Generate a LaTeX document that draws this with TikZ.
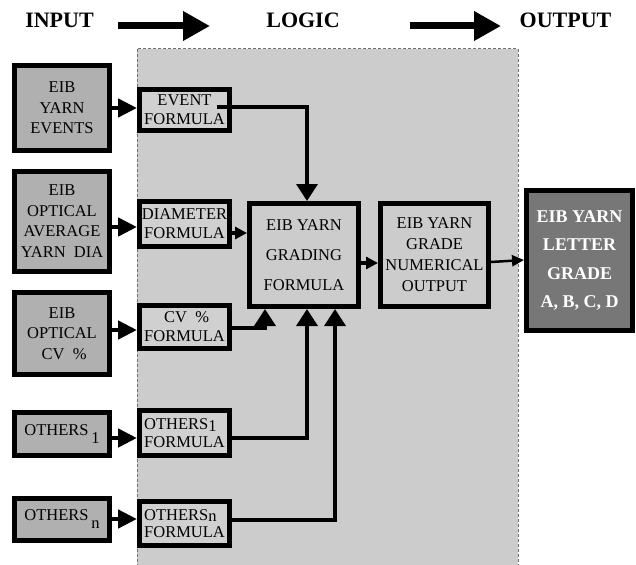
\documentclass[tikz,border=0pt]{standalone}
\usepackage{fontspec}
\setmainfont{Liberation Serif}
\usetikzlibrary{arrows.meta}
\definecolor{bgGray}{HTML}{CCCCCC}
\definecolor{inGray}{HTML}{B0B0B0}
\definecolor{fmGray}{HTML}{D0D0D0}
\definecolor{outGray}{HTML}{777777}
\definecolor{dashGray}{HTML}{707070}
\begin{document}
\begin{tikzpicture}[x=1pt,y=-1pt,
  boxbase/.style={draw=black, line width=5pt, inner sep=0pt, outer sep=2.5pt, align=center},
  inbox/.style={boxbase, fill=inGray, font=\fontsize{16.5}{20.5}\selectfont},
  fmbox/.style={boxbase, fill=fmGray, font=\fontsize{16.5}{19}\selectfont},
  lgbox/.style={boxbase, fill=bgGray},
  outbox/.style={boxbase, fill=outGray, text=white, font=\bfseries\fontsize{18}{28.5}\selectfont},
  titletext/.style={font=\bfseries\fontsize{22}{24}\selectfont, inner sep=0pt},
  conn/.style={line width=3.5pt},
  inarrow/.style={line width=4.5pt, -{Triangle[length=19pt,width=18pt]}},
  uptip/.style={conn, -{Triangle[length=17pt,width=21pt]}},
  smalltip/.style={conn, -{Triangle[length=12pt,width=12pt]}},
  titlearrow/.style={line width=7pt, -{Triangle[length=27pt,width=28pt]}}
]
\useasboundingbox (0,0) rectangle (636,564);
% logic region
\draw[fill=bgGray, draw=dashGray, line width=1pt, dash pattern=on 3pt off 2pt] (137,49) rectangle (518,570);

% titles
\node[titletext] (tin) at (59.5,20) {INPUT};
\node[titletext] (tlog) at (303,20) {LOGIC};
\node[titletext] (tout) at (565.5,20) {OUTPUT};
\coordinate (a1s) at (118,26);
\coordinate (a1e) at (210,26);
\coordinate (a2s) at (410,26);
\coordinate (a2e) at (501,26);
\draw[titlearrow] (a1s) -- (a1e);
\draw[titlearrow] (a2s) -- (a2e);

% input boxes
\node[inbox, minimum width=95pt, minimum height=85pt] (ev) at (62,108) {EIB\\YARN\\EVENTS};
\node[inbox, minimum width=95pt, minimum height=100pt] (dia) at (62,221) {EIB\\OPTICAL\\AVERAGE\\YARN\ \ DIA};
\node[inbox, minimum width=95pt, minimum height=82pt] (cv) at (62,333.5) {EIB\\OPTICAL\\\ CV\ \ \%};
\node[inbox, minimum width=95pt, minimum height=43pt] (oa) at (62,434) {OTHERS\,\raisebox{-8pt}{1}};
\node[inbox, minimum width=95pt, minimum height=42pt] (ob) at (62,519.5) {OTHERS\,\raisebox{-8pt}{n}};

% formula boxes
\node[fmbox, minimum width=90pt, minimum height=41pt] (evf) at (184.5,110) {EVENT\\FORMULA};
\node[fmbox, minimum width=90pt, minimum height=45pt] (diaf) at (184.5,224) {DIAMETER\\FORMULA};
\node[fmbox, minimum width=90pt, minimum height=43pt] (cvf) at (184.5,327) {\ CV\ \ \%\\FORMULA};
\node[fmbox, minimum width=90pt, minimum height=45pt, align=left, font=\fontsize{16.5}{17.5}\selectfont] (oaf) at (184.5,433) {OTHERS\raisebox{-1.5pt}{1}\\FORMULA};
\node[fmbox, minimum width=90pt, minimum height=44pt, align=left, font=\fontsize{16.5}{17.5}\selectfont] (obf) at (184.5,523.5) {OTHERS\raisebox{-1.5pt}{n}\\FORMULA};

% logic boxes
\node[lgbox, minimum width=109pt, minimum height=103pt, font=\fontsize{16.5}{30}\selectfont] (grd) at (304,255) {EIB YARN\\GRADING\\FORMULA};
\node[lgbox, minimum width=108pt, minimum height=103pt, font=\fontsize{16.5}{21}\selectfont] (num) at (434.5,255) {EIB YARN\\GRADE\\NUMERICAL\\OUTPUT};
\node[outbox, minimum width=106pt, minimum height=140pt] (let) at (579.5,260.5) {EIB YARN\\LETTER\\GRADE\\A, B, C, D};

% input arrows
\draw[inarrow] (ev.east |- 0,108) -- (evf.west |- 0,108);
\draw[inarrow] (dia.east |- 0,227) -- (diaf.west |- 0,227);
\draw[inarrow] (cv.east |- 0,330) -- (cvf.west |- 0,330);
\draw[inarrow] (oa.east |- 0,438) -- (oaf.west |- 0,438);
\draw[inarrow] (ob.east |- 0,519) -- (obf.west |- 0,519);

% formulas to grading
\coordinate (evs) at (217,107);
\draw[uptip] (evs) -| (grd.north -| 307,0);
\draw[smalltip] (diaf.east |- 0,233) -- (grd.west |- 0,233);
\draw[uptip] (cvf.east |- 0,328) -| (grd.south -| 265,0);
\draw[uptip] (oaf.east |- 0,438) -| (grd.south -| 307,0);
\draw[uptip] (obf.east |- 0,520) -| (grd.south -| 335,0);

% grading to output
\draw[smalltip] (grd.east |- 0,263) -- (num.west |- 0,263);
\draw[line width=2.5pt, -{Triangle[length=12pt,width=11pt]}] (num.east |- 0,262) -- (let.west |- 0,260);
\end{tikzpicture}
\end{document}
